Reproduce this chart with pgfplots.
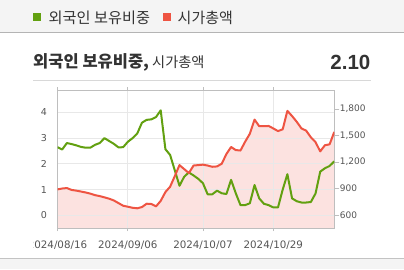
\documentclass[border=0pt]{standalone}
\usepackage{pgfplots}
\usepackage{pgfplotstable}
\pgfplotsset{compat=1.18}
\usepackage{fontspec}
\setmainfont{DejaVu Sans}
\newfontfamily\kr{Noto Sans CJK KR}
\newfontfamily\lib{Liberation Sans}
\definecolor{gline}{RGB}{98,160,16}
\definecolor{rline}{RGB}{238,84,66}
\definecolor{pinkfill}{RGB}{252,226,224}
\definecolor{framec}{RGB}{190,190,190}
\definecolor{gridc}{RGB}{232,232,232}
\definecolor{lbl}{RGB}{85,85,85}
\definecolor{band}{RGB}{244,244,244}
\definecolor{bandline}{RGB}{180,180,180}
\definecolor{sepc}{RGB}{216,216,216}
\definecolor{txt}{RGB}{51,51,51}

\pgfplotstableread{
i g r
0 2.65 890
1 2.56 900
2 2.81 905
3 2.77 884
4 2.72 876
5 2.66 866
6 2.63 855
7 2.63 842
8 2.74 825
9 2.81 814
10 3.00 800
11 2.89 785
12 2.78 765
13 2.64 735
14 2.65 705
15 2.86 694
16 3.00 682
17 3.18 676
18 3.60 690
19 3.71 728
20 3.73 725
21 3.82 698
22 4.08 760
23 2.57 860
24 2.35 920
25 1.75 1040
26 1.15 1165
27 1.50 1120
28 1.67 1075
29 1.55 1160
30 1.42 1165
31 1.25 1170
32 0.82 1160
33 0.82 1146
34 0.96 1150
35 0.86 1180
36 0.83 1290
37 1.38 1370
38 0.86 1335
39 0.40 1330
40 0.40 1430
41 0.47 1520
42 1.18 1680
43 0.66 1605
44 0.45 1605
45 0.40 1608
46 0.31 1580
47 0.31 1550
48 1.00 1570
49 1.60 1779
50 0.66 1720
51 0.55 1655
52 0.50 1580
53 0.50 1555
54 0.52 1480
55 0.85 1425
56 1.70 1320
57 1.83 1390
58 1.92 1400
59 2.10 1541
}\data

\begin{document}
\begin{tikzpicture}[x=1pt,y=1pt]
\useasboundingbox (0,0) rectangle (404,269);
\clip (0,0) rectangle (404,269);
\fill[white] (0,0) rectangle (404,269);
\fill[band] (0,237) rectangle (404,269);
\draw[bandline, line width=1pt] (0,237) -- (404,237);
% legend
\fill[gline] (33.3,248.3) rectangle (40.7,255.7);
\node[anchor=west, inner sep=0pt, text=txt] at (48.5,251.5) {\kr\fontsize{15.2}{15}\selectfont 외국인 보유비중};
\fill[rline] (163.3,248.3) rectangle (170.7,255.7);
\node[anchor=west, inner sep=0pt, text=txt] at (177.5,251.5) {\kr\fontsize{15}{15}\selectfont 시가총액};
% title
\node[anchor=west, inner sep=0pt, text=txt] at (33,206.5) {\kr\fontsize{16.5}{16}\selectfont\bfseries 외국인 보유비중,\fontsize{14.2}{14}\selectfont\mdseries\ 시가총액};
\node[anchor=east, inner sep=0pt, text=txt] at (370.5,206.5) {\lib\fontsize{20.5}{20.5}\selectfont\bfseries 2.10};
\draw[sepc, line width=1pt] (33,189) -- (371,189);

\begin{axis}[
  scale only axis, width=276.8pt, height=138pt,
  at={(57.5pt,41pt)}, anchor=south west,
  xmin=0, xmax=59, ymin=453, ymax=2015,
  axis x line=none, axis y line*=right,
  axis line style={framec, line width=1pt},
  ytick={600,900,1200,1500,1800},
  tick align=outside, major tick length=5pt,
  ytick style={color=framec, line width=0.8pt},
  yticklabel style={font=\fontsize{9}{9}\selectfont, color=lbl, xshift=-3pt},
  /pgf/number format/assume math mode=true,
  /pgf/number format/1000 sep={,},
  scaled y ticks=false,
]
\addplot[fill=pinkfill, draw=none] table[x=i,y=r]{\data} \closedcycle;
\end{axis}

\begin{axis}[
  scale only axis, width=276.8pt, height=138pt,
  at={(57.5pt,41pt)}, anchor=south west,
  xmin=0, xmax=59, ymin=-0.49, ymax=4.87,
  xtick={0,15,31,46},
  xticklabels={2024/08/16,2024/09/06,2024/10/07,2024/10/29},
  ytick={0,1,2,3,4},
  grid=major, grid style={gridc, line width=0.8pt},
  axis line style={framec, line width=1pt},
  tick align=outside, major tick length=3pt,
  xtick style={color=framec, line width=0.8pt},
  ytick style={draw=none},
  xticklabel style={font=\fontsize{10.3}{10}\selectfont, color=lbl, yshift=-6pt},
  yticklabel style={font=\fontsize{9.5}{9.5}\selectfont, color=lbl, xshift=-4pt},
  /pgf/number format/assume math mode=true,
]
\addplot[gline, line width=2pt, line join=round] table[x=i,y=g]{\data};
\end{axis}

\begin{axis}[
  scale only axis, width=276.8pt, height=138pt,
  at={(57.5pt,41pt)}, anchor=south west,
  xmin=0, xmax=59, ymin=453, ymax=2015,
  hide axis,
]
\addplot[rline, line width=2pt, line join=round] table[x=i,y=r]{\data};
\end{axis}
% the card clips the first date label at its left padding
\fill[white] (0,12) rectangle (32.8,38);
\fill[band] (0,0) rectangle (404,11);
\draw[bandline!80, line width=1pt] (0,11) -- (404,11);
\end{tikzpicture}
\end{document}
